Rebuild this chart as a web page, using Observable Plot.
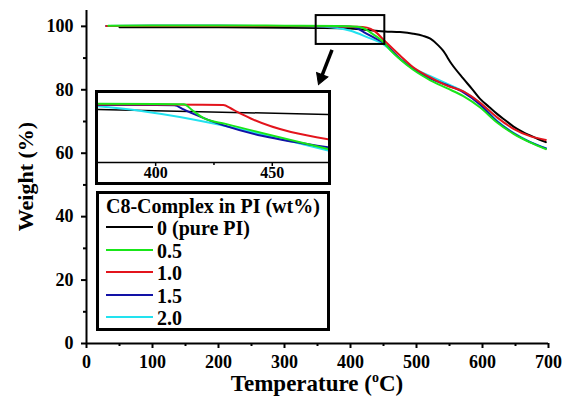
<!DOCTYPE html>
<html>
<head>
<meta charset="utf-8">
<script src="https://cdn.jsdelivr.net/npm/d3@7"></script>
<script src="https://cdn.jsdelivr.net/npm/@observablehq/plot@0.6"></script>
<style>
  html, body { margin: 0; padding: 0; background: #fff; }
  #wrap { position: relative; width: 565px; height: 398px; font-family: "Liberation Serif", "Times New Roman", serif; font-weight: bold; }
  #inset { position: absolute; left: 95px; top: 90px; border: 3px solid #000; background: #fff; line-height: 0; }
  #legend { position: absolute; left: 96px; top: 191px; width: 234px; height: 140px; box-sizing: border-box;
            border: 3px solid #000; background: #fff; padding: 1px 0 0 7px; font-size: 20px; color: #000; }
  #legend .title { height: 22px; line-height: 22px; white-space: nowrap; }
  #legend .row { height: 22.5px; line-height: 22.5px; display: flex; align-items: center; white-space: nowrap; }
  #legend .sw { width: 47px; height: 0; border-top: 2.5px solid #000; margin-right: 4px; position: relative; top: -1px; }
</style>
</head>
<body>
<div id="wrap"></div>
<script>
// ---- labels / categories ----
const seriesNames = ["0 (pure PI)", "0.5", "1.0", "1.5", "2.0"];
const seriesColors = ["#000000", "#19e619", "#e3141c", "#1212a6", "#22e2ef"];
const legendTitle = "C8-Complex in PI (wt%)";
const yLabel = "Weight (%)";
const xTicks = [0, 100, 200, 300, 400, 500, 600, 700];
const xMinorTicks = [50, 150, 250, 350, 450, 550, 650];
const yTicks = [0, 20, 40, 60, 80, 100];
const yMinorTicks = [10, 30, 50, 70, 90];
const insetTicks = [400, 450];
const insetMinorTicks = [425];

// ---- main TGA curves (temperature °C, weight %) ----
const tPure = [50, 100, 200, 300, 350, 400, 430, 452, 475, 495, 510, 521, 533, 540, 553, 571, 584, 596, 610, 622, 635, 647, 660, 672, 685, 696];
const wPure = [99.7, 99.7, 99.7, 99.6, 99.5, 99.3, 98.8, 98.4, 98.2, 97.7, 97.0, 96.1, 94.0, 92.4, 88.2, 83.5, 80.3, 77.2, 74.6, 72.4, 70.3, 68.4, 66.8, 65.6, 64.4, 63.5];

const t05 = [33, 100, 200, 300, 380, 410, 420, 430, 450, 460, 475, 495, 521, 546, 571, 596, 622, 647, 672, 696];
const w05 = [100.2, 100.3, 100.3, 100.2, 100.1, 99.9, 99.4, 98.1, 95.0, 92.6, 89.6, 86.3, 83.0, 80.5, 78.0, 74.5, 69.7, 66.1, 63.4, 61.3];

const t10 = [30, 100, 200, 300, 380, 410, 425, 437, 450, 475, 495, 521, 546, 571, 596, 622, 647, 672, 696];
const w10 = [100.1, 100.1, 100.1, 100.1, 100.0, 99.9, 99.6, 98.4, 95.8, 90.8, 87.1, 83.9, 81.3, 79.5, 76.0, 71.3, 67.7, 65.4, 64.2];

const t15 = [30, 100, 200, 300, 380, 400, 410, 420, 435, 450, 475, 495, 521, 546, 571, 596, 622, 647, 672, 696];
const w15 = [100.1, 100.2, 100.2, 100.1, 100.0, 99.9, 99.4, 98.2, 96.5, 94.8, 89.8, 86.6, 83.5, 81.5, 79.2, 75.4, 70.0, 66.3, 63.5, 61.5];

const t20 = [30, 100, 200, 300, 360, 380, 400, 425, 450, 475, 495, 521, 546, 571, 596, 622, 647, 672, 696];
const w20 = [100.1, 100.2, 100.2, 100.1, 99.9, 99.5, 98.6, 96.6, 94.3, 89.8, 86.8, 84.3, 81.9, 79.5, 75.8, 70.2, 66.4, 63.6, 61.6];

// ---- inset (magnified 375–475 °C window) ----
const itPure = [375, 475];
const iwPure = [99.34, 98.98];
const it05 = [375, 400, 412, 416, 420.6, 430, 475];
const iw05 = [99.75, 99.74, 99.72, 99.25, 98.71, 98.3, 96.44];
const it10 = [375, 420, 429, 432, 435, 441, 475];
const iw10 = [99.70, 99.69, 99.66, 99.45, 99.16, 98.67, 97.15];
const it15 = [375, 400, 408, 412, 416, 475];
const iw15 = [99.66, 99.66, 99.64, 99.35, 99.04, 96.57];
const it20 = [375, 381, 475];
const iw20 = [99.58, 99.49, 96.32];

// ---- annotations (zoom box and arrow, in data units) ----
const zoomBoxT = [348, 452];
const zoomBoxW = [94.3, 103.4];
const arrowT = [372, 355.3];
const arrowW = [92.6, 83.7];

const toRows = (ts, ws) => ts.map((t, i) => ({t, w: ws[i]}));
const mainSeries = [toRows(tPure, wPure), toRows(t05, w05), toRows(t10, w10), toRows(t15, w15), toRows(t20, w20)];
const insetSeries = [toRows(itPure, iwPure), toRows(it05, iw05), toRows(it10, iw10), toRows(it15, iw15), toRows(it20, iw20)];
const drawOrder = [0, 4, 3, 2, 1];

const serif = "Liberation Serif";

const main = Plot.plot({
  width: 565, height: 398,
  marginLeft: 86, marginRight: 17, marginTop: 10, marginBottom: 55,
  x: {domain: [0, 700]},
  y: {domain: [0, 105]},
  style: {fontFamily: serif, fontWeight: "bold", color: "#000", background: "#fff", overflow: "visible"},
  marks: [
    Plot.axisX({ticks: xTicks, tickSize: 5, tickPadding: 7, strokeWidth: 2, fontSize: 18, label: null}),
    Plot.axisX({ticks: xMinorTicks, tickSize: 3, strokeWidth: 2, text: null, label: null}),
    Plot.axisY({ticks: yTicks, tickSize: 5, tickPadding: 8, strokeWidth: 2, fontSize: 18, label: null}),
    Plot.axisY({ticks: yMinorTicks, tickSize: 3, strokeWidth: 2, text: null, label: null}),
    Plot.ruleX([0], {y1: 0, y2: 105, strokeWidth: 2}),
    Plot.ruleY([0], {x1: 0, x2: 700, strokeWidth: 2}),
    ...drawOrder.map(i => Plot.line(mainSeries[i], {x: "t", y: "w", stroke: seriesColors[i], strokeWidth: 2, curve: "monotone-x"})),
    Plot.rect([{x1: zoomBoxT[0], x2: zoomBoxT[1], y1: zoomBoxW[0], y2: zoomBoxW[1]}], {x1: "x1", x2: "x2", y1: "y1", y2: "y2", fill: "none", stroke: "#000", strokeWidth: 2}),
    Plot.link([{x1: arrowT[0], y1: arrowW[0], x2: arrowT[1], y2: arrowW[1]}], {x1: "x1", y1: "y1", x2: "x2", y2: "y2", stroke: "#000", strokeWidth: 3.5}),
    Plot.dot([{x: arrowT[1], y: arrowW[1]}], {x: "x", y: "y", symbol: "triangle", r: 4.5, fill: "#000", stroke: "#000", strokeWidth: 1, rotate: 201})
  ]
});

const svgSel = d3.select(main);
const xs = main.scale("x");
const ys = main.scale("y");

// y-axis title
svgSel.append("text")
  .attr("transform", `translate(25,${(ys.range[0] + ys.range[1]) / 2}) rotate(-90)`)
  .attr("text-anchor", "middle")
  .attr("dy", "0.35em")
  .attr("font-family", serif)
  .attr("font-weight", "bold")
  .attr("font-size", 22)
  .attr("fill", "#000")
  .text(yLabel);

// x-axis title with superscript "o"
const lbl = svgSel.append("text")
  .attr("x", (xs.range[0] + xs.range[1]) / 2)
  .attr("y", 391)
  .attr("text-anchor", "middle")
  .attr("font-family", serif)
  .attr("font-weight", "bold")
  .attr("font-size", 23)
  .attr("fill", "#000");
lbl.append("tspan").text("Temperature (");
lbl.append("tspan").attr("font-size", 14).attr("dy", -9).text("o");
lbl.append("tspan").attr("dy", 9).text("C)");

const inset = Plot.plot({
  width: 230, height: 89,
  marginLeft: 0, marginRight: 0, marginTop: 0, marginBottom: 20,
  x: {domain: [375.5, 474.1]},
  y: {domain: [95.5, 100.5], axis: null},
  style: {fontFamily: serif, fontWeight: "bold", color: "#000", background: "#fff"},
  marks: [
    Plot.axisX({ticks: insetTicks, tickSize: 4, tickPadding: 0, strokeWidth: 1.5, fontSize: 16, label: null}),
    Plot.axisX({ticks: insetMinorTicks, tickSize: 3, strokeWidth: 1.5, text: null, label: null}),
    Plot.ruleY([95.5], {strokeWidth: 1.5}),
    ...drawOrder.map(i => Plot.line(insetSeries[i], {x: "t", y: "w", stroke: seriesColors[i], strokeWidth: i === 0 ? 1.5 : 2, curve: "monotone-x", clip: true}))
  ]
});

const wrap = document.getElementById("wrap");
wrap.appendChild(main);
const insetDiv = document.createElement("div");
insetDiv.id = "inset";
insetDiv.appendChild(inset);
wrap.appendChild(insetDiv);

const legend = document.createElement("div");
legend.id = "legend";
const title = document.createElement("div");
title.className = "title";
title.textContent = legendTitle;
legend.appendChild(title);
seriesNames.forEach((name, i) => {
  const row = document.createElement("div");
  row.className = "row";
  const sw = document.createElement("span");
  sw.className = "sw";
  sw.style.borderTopColor = seriesColors[i];
  const tx = document.createElement("span");
  tx.textContent = name;
  row.appendChild(sw);
  row.appendChild(tx);
  legend.appendChild(row);
});
wrap.appendChild(legend);
</script>
</body>
</html>
